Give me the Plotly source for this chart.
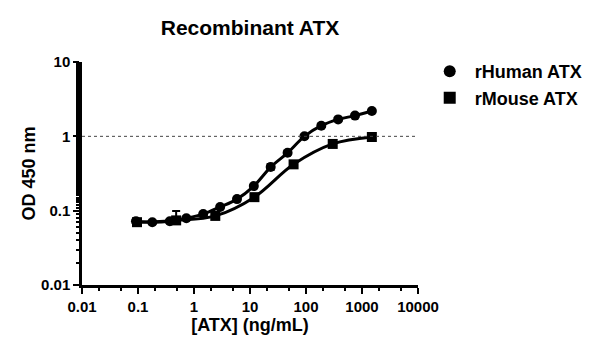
import plotly.graph_objects as go

# Data
human_conc = [0.092, 0.18, 0.37, 0.73, 1.46, 2.93, 5.86, 11.7, 23.4, 46.9, 93.75, 187.5, 375, 750, 1500]
human_od = [0.072, 0.070, 0.072, 0.079, 0.090, 0.112, 0.143, 0.214, 0.386, 0.60, 1.0, 1.39, 1.69, 1.90, 2.19]
human_err = [0.004, 0.003, 0.004, 0.004, 0.004, 0.005, 0.006, 0.01, 0.04, 0.03, 0.03, 0.04, 0.04, 0.04, 0.05]
human_err_minus = [0.004, 0.003, 0.004, 0.004, 0.004, 0.005, 0.006, 0.01, 0.03, 0.03, 0.03, 0.04, 0.04, 0.04, 0.05]

mouse_conc = [0.096, 0.48, 2.4, 12, 60, 300, 1500]
mouse_od = [0.070, 0.074, 0.085, 0.152, 0.42, 0.79, 0.98]
mouse_err = [0.006, 0.025, 0.005, 0.008, 0.02, 0.03, 0.03]
mouse_err_minus = [0.006, 0.008, 0.005, 0.008, 0.02, 0.03, 0.03]

series_names = ["rHuman ATX", "rMouse ATX"]
x_tickvals = [0.01, 0.1, 1, 10, 100, 1000, 10000]
x_ticktext = ["0.01", "0.1", "1", "10", "100", "1000", "10000"]
y_tickvals = [0.01, 0.1, 1, 10]
y_ticktext = ["0.01", "0.1", "1", "10"]

FONT = "Liberation Sans, Arial, sans-serif"

fig = go.Figure()
fig.add_trace(go.Scatter(
    x=human_conc, y=human_od, name=series_names[0], mode="lines+markers", showlegend=False,
    line=dict(color="black", width=3, shape="spline", smoothing=1.0),
    marker=dict(symbol="circle", size=10, color="black"),
    error_y=dict(type="data", array=human_err, arrayminus=human_err_minus,
                 color="black", thickness=2, width=4),
))
fig.add_trace(go.Scatter(
    x=mouse_conc, y=mouse_od, name=series_names[1], mode="lines+markers", showlegend=False,
    line=dict(color="black", width=3, shape="spline", smoothing=1.0),
    marker=dict(symbol="square", size=10, color="black"),
    error_y=dict(type="data", array=mouse_err, arrayminus=mouse_err_minus,
                 color="black", thickness=2, width=4),
))
# legend entries (markers only, like the reference)
fig.add_trace(go.Scatter(x=[None], y=[None], name=series_names[0], mode="markers",
                         marker=dict(symbol="circle", size=9, color="black")))
fig.add_trace(go.Scatter(x=[None], y=[None], name=series_names[1], mode="markers",
                         marker=dict(symbol="square", size=9, color="black")))

fig.add_shape(type="line", xref="paper", yref="y", x0=0, x1=1, y0=1, y1=1,
              line=dict(color="#444", width=1, dash="dot"))

axis_common = dict(
    type="log", showgrid=False, zeroline=False, showline=True,
    linecolor="black", linewidth=2.5, ticks="outside", ticklen=6, tickwidth=2,
    tickcolor="black", mirror=False,
    tickfont=dict(family=FONT, size=15, color="black", weight="bold"),
    minor=dict(ticks="outside", ticklen=3, tickwidth=1.5, tickcolor="black", showgrid=False),
)

fig.update_layout(
    width=600, height=353,
    margin=dict(l=82, r=182, t=62, b=68, autoexpand=False),
    plot_bgcolor="white", paper_bgcolor="white",
    font=dict(family=FONT, color="black"),
    title=dict(text="<b>Recombinant ATX</b>", x=(82 + 418) / 2 / 600, xanchor="center",
               y=1 - 28 / 353, yanchor="middle", yref="container",
               font=dict(family=FONT, size=21, color="black")),
    xaxis=dict(axis_common, range=[-2, 4], tickvals=x_tickvals, ticktext=x_ticktext,
               title=dict(text="[ATX] (ng/mL)", font=dict(family=FONT, size=18, weight="bold"),
                          standoff=5)),
    yaxis=dict(axis_common, range=[-2, 1], tickvals=y_tickvals, ticktext=y_ticktext,
               title=dict(text="OD 450 nm", font=dict(family=FONT, size=18, weight="bold"),
                          standoff=1)),
    legend=dict(x=1.02, y=1.04, xanchor="left", yanchor="top",
                font=dict(family=FONT, size=18, color="black", weight="bold"),
                bgcolor="rgba(0,0,0,0)", itemsizing="constant", itemwidth=40, tracegroupgap=0),
    showlegend=True,
)

fig.write_html("out.html")
